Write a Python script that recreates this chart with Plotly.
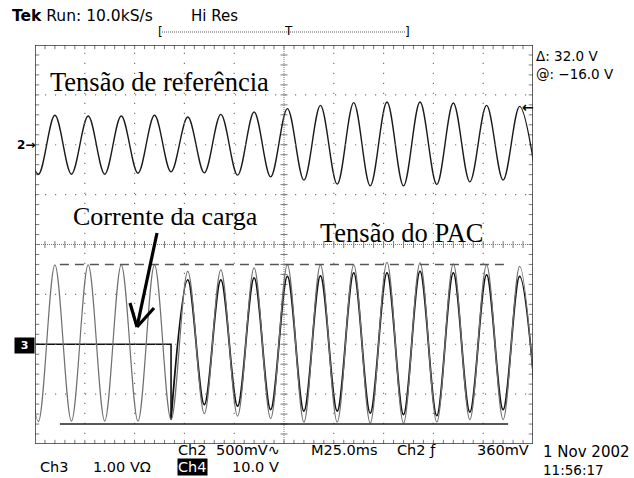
import plotly.graph_objects as go

# ---------------------------------------------------------------------------
# Acquisition: 25 ms/div, 10 divisions -> 250 ms record, 8 vertical divisions
# ---------------------------------------------------------------------------
T_SPAN = 250.0          # ms
V_DIVS = 4.0            # +/- divisions

# Channel settings: (volts per division, trace offset in divisions)
CH2_SCALE, CH2_OFFSET = 0.5, 2.0      # reference voltage, 500 mV/div
CH3_SCALE, CH3_OFFSET = 1.0, -2.0     # load current probe, 1.00 V/div
CH4_SCALE, CH4_OFFSET = 10.0, -2.0    # PAC voltage, 10.0 V/div

# Instants of successive peaks/troughs of the 60 Hz waveforms (ms)
t_ext = [-6.7, 1.7, 10.0, 18.3, 26.7, 35.0, 43.3, 51.7, 60.0, 68.3,
         76.7, 85.0, 93.3, 101.7, 110.0, 118.3, 126.7, 135.0, 143.3, 151.7,
         160.0, 168.3, 176.7, 185.0, 193.3, 201.7, 210.0, 218.3, 226.7, 235.0,
         243.3, 251.7]

# Ch2 - reference voltage extremes (V)
ch2_ext = [0.295, -0.295, 0.295, -0.295, 0.288, -0.295, 0.288, -0.285, 0.295, -0.272,
           0.278, -0.282, 0.305, -0.305, 0.328, -0.322, 0.362, -0.355, 0.395, -0.395,
           0.422, -0.412, 0.428, -0.412, 0.428, -0.398, 0.418, -0.372, 0.395, -0.355,
           0.385, -0.355]

# Ch4 - PAC voltage extremes (V)
ch4_ext = [15.9, -15.5, 15.9, -15.4, 15.9, -15.4, 15.9, -15.4, 15.9, -15.1,
           14.6, -13.9, 14.9, -14.4, 15.3, -14.9, 15.9, -15.6, 15.9, -15.6,
           15.9, -15.8, 16.4, -15.8, 16.3, -15.6, 16.1, -15.1, 15.9, -15.1,
           15.6, -15.1]

# Ch3 - load current: zero until the load is switched in, then sinusoidal
ch3_off_t = [0.0, 68.3, 68.3]
ch3_off_v = [0.0, 0.0, -1.51]
ch3_t = t_ext[9:]
ch3_ext = [-1.51, 1.29, -1.21, 1.29, -1.24, 1.33, -1.31, 1.36, -1.34, 1.37,
           -1.34, 1.43, -1.38, 1.43, -1.41, 1.46, -1.43, 1.43, -1.36, 1.39,
           -1.31, 1.36, -1.31]

# Amplitude cursors on Ch4
cursor_delta = 32.0
cursor_at = -16.0
cursor_t = [12.5, 237.5]


def to_div(values, scale, offset):
    return [offset + v / scale for v in values]


# Plot area in pixels inside the 634 x 478 page
W, H = 634, 478
L, R, TOP, BOT = 35, 533, 45, 444


def xp(px):
    return (px - L) / (R - L)


def yp(py):
    return (BOT - py) / (BOT - TOP)


fig = go.Figure()

GRID = "#7a7a7a"
TRACE_GRAY = "#6f6f6f"

# --- graticule -------------------------------------------------------------
shapes = []
for k in range(1, 10):
    if k == 5:
        continue
    shapes.append(dict(type="line", xref="x", yref="y", x0=25 * k, x1=25 * k,
                       y0=-V_DIVS, y1=V_DIVS,
                       line=dict(color=GRID, width=1.2, dash="1.2px,8.8px")))
for k in range(-3, 4):
    if k == 0:
        continue
    shapes.append(dict(type="line", xref="x", yref="y", x0=0, x1=T_SPAN,
                       y0=k, y1=k,
                       line=dict(color=GRID, width=1.2, dash="1.2px,8.8px")))
# centre cross
shapes.append(dict(type="line", xref="x", yref="y", x0=0, x1=T_SPAN, y0=0, y1=0,
                   line=dict(color=GRID, width=1, dash="1px,1px")))
shapes.append(dict(type="line", xref="x", yref="y", x0=125, x1=125, y0=-V_DIVS, y1=V_DIVS,
                   line=dict(color=GRID, width=1, dash="1px,1px")))
# frame
shapes.append(dict(type="rect", xref="x", yref="y", x0=0, x1=T_SPAN, y0=-V_DIVS, y1=V_DIVS,
                   line=dict(color="#333333", width=1.5)))

# minor ticks on the centre cross and along the frame
minor_t = [5 * i for i in range(1, 50)]
minor_v = [0.2 * i - 4 for i in range(1, 40)]
fig.add_trace(go.Scatter(x=minor_t, y=[0] * len(minor_t), mode="markers",
                         marker=dict(symbol="line-ns", size=5, line=dict(color=GRID, width=1)),
                         hoverinfo="skip", showlegend=False))
fig.add_trace(go.Scatter(x=[125] * len(minor_v), y=minor_v, mode="markers",
                         marker=dict(symbol="line-ew", size=5, line=dict(color=GRID, width=1)),
                         hoverinfo="skip", showlegend=False))
fig.add_trace(go.Scatter(x=minor_t + minor_t, y=[V_DIVS - 0.035] * len(minor_t) + [-V_DIVS + 0.035] * len(minor_t),
                         mode="markers",
                         marker=dict(symbol="line-ns", size=3.5, line=dict(color=GRID, width=1)),
                         hoverinfo="skip", showlegend=False))
fig.add_trace(go.Scatter(x=[0.9] * len(minor_v) + [T_SPAN - 0.9] * len(minor_v), y=minor_v + minor_v,
                         mode="markers",
                         marker=dict(symbol="line-ew", size=3.5, line=dict(color=GRID, width=1)),
                         hoverinfo="skip", showlegend=False))

# --- waveforms -------------------------------------------------------------
fig.add_trace(go.Scatter(x=ch3_off_t, y=to_div(ch3_off_v, CH3_SCALE, CH3_OFFSET),
                         mode="lines", line=dict(color="#111111", width=1.6),
                         hoverinfo="skip", showlegend=False))
fig.add_trace(go.Scatter(x=ch3_t, y=to_div(ch3_ext, CH3_SCALE, CH3_OFFSET),
                         mode="lines", line=dict(color="#111111", width=1.8, shape="spline", smoothing=1),
                         hoverinfo="skip", showlegend=False))
fig.add_trace(go.Scatter(x=t_ext, y=to_div(ch4_ext, CH4_SCALE, CH4_OFFSET),
                         mode="lines", line=dict(color=TRACE_GRAY, width=1.2, shape="spline", smoothing=1),
                         hoverinfo="skip", showlegend=False))
fig.add_trace(go.Scatter(x=t_ext, y=to_div(ch2_ext, CH2_SCALE, CH2_OFFSET),
                         mode="lines", line=dict(color="#1a1a1a", width=1.4, shape="spline", smoothing=1),
                         hoverinfo="skip", showlegend=False))

# cursors (Ch4 volts): @ = lower cursor, delta = separation
cur_lo = to_div([cursor_at], CH4_SCALE, CH4_OFFSET)[0]
cur_hi = to_div([cursor_at + cursor_delta], CH4_SCALE, CH4_OFFSET)[0]
shapes.append(dict(type="line", xref="x", yref="y", x0=cursor_t[0], x1=cursor_t[1],
                   y0=cur_hi, y1=cur_hi, line=dict(color="#555555", width=1.5, dash="9px,6px")))
shapes.append(dict(type="line", xref="x", yref="y", x0=cursor_t[0], x1=cursor_t[1],
                   y0=cur_lo, y1=cur_lo, line=dict(color="#222222", width=1.5)))

# pointer for the load-current label
for (x0, y0, x1, y1) in [(157, 233, 137, 327), (137, 327, 130, 303), (137, 327, 154, 308)]:
    shapes.append(dict(type="line", xref="paper", yref="paper",
                       x0=xp(x0), y0=yp(y0), x1=xp(x1), y1=yp(y1),
                       line=dict(color="black", width=3.2)))

# trigger position bracket
shapes.append(dict(type="line", xref="paper", yref="paper", x0=xp(162), x1=xp(406),
                   y0=yp(32), y1=yp(32), line=dict(color="#555555", width=1, dash="1px,1px")))

# --- text ------------------------------------------------------------------
SANS = "DejaVu Sans"
SERIF = "Liberation Serif"
ann = []


def label(text, x, y, size=15, font=SANS, color="black", xanchor="left", **kw):
    ann.append(dict(text=text, x=xp(x), y=yp(y), xref="paper", yref="paper",
                    xanchor=xanchor, yanchor="middle", showarrow=False, borderpad=0,
                    font=dict(family=font, size=size, color=color), **kw))


label("<b>Tek</b> Run: 10.0kS/s", 11, 16, size=15.5)
label("Hi Res", 190, 16, size=15)
label("[", 157, 32, size=12)
label("]", 404, 32, size=12)
label("T", 288, 31, size=12, xanchor="center")
label("Δ: 32.0 V<br>@: −16.0 V", 535, 64.5, size=13.5, align="left")
label("<b>2→</b>", 16, 145, size=12)
label("<b>←</b>", 535, 107, size=14, xanchor="right")
label("<b>3</b>", 24, 345, size=11, color="white", xanchor="center",
      bgcolor="black", width=19, height=15)

label("Tensão de referência", 49, 82, size=26.5, font=SERIF)
label("Corrente da carga", 72, 216, size=26, font=SERIF)
label("Tensão do PAC", 319, 233, size=26.5, font=SERIF)

label("Ch2", 177, 450, size=14.5)
label("500mV∿", 215, 450, size=14.5)
label("M25.0ms", 310, 450, size=14.5)
label("Ch2 ƒ", 396, 450, size=14.5)
label("360mV", 476, 450, size=14.5)
label("Ch3", 39, 467, size=14.5)
label("1.00 VΩ", 92, 467, size=14.5)
label("Ch4", 177, 467, size=14.5, color="white", bgcolor="black")
label("10.0 V", 231, 467, size=14.5)
label("1 Nov 2002", 542, 452, size=15)
label("11:56:17", 542, 470, size=13.5)

fig.update_layout(
    width=W, height=H,
    margin=dict(l=L, r=W - R, t=TOP, b=H - BOT, pad=0),
    paper_bgcolor="white", plot_bgcolor="white",
    xaxis=dict(range=[0, T_SPAN], visible=False, fixedrange=True),
    yaxis=dict(range=[-V_DIVS, V_DIVS], visible=False, fixedrange=True),
    shapes=shapes, annotations=ann, showlegend=False,
)

fig.write_html("out.html")
